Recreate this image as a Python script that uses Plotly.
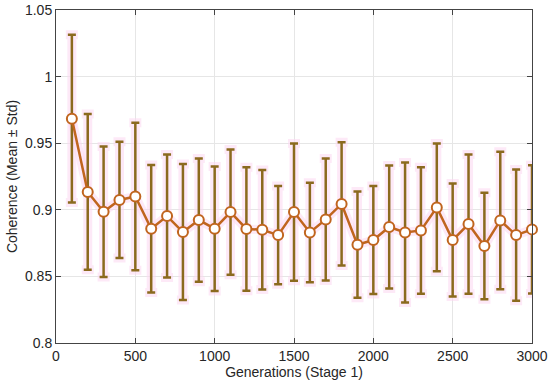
import plotly.graph_objects as go

generations = [100, 200, 300, 400, 500, 600, 700, 800, 900, 1000,
               1100, 1200, 1300, 1400, 1500, 1600, 1700, 1800, 1900, 2000,
               2100, 2200, 2300, 2400, 2500, 2600, 2700, 2800, 2900, 3000]
mean_coh = [0.9684, 0.9134, 0.8986, 0.9074, 0.9100, 0.8858, 0.8953, 0.8833, 0.8923, 0.8858,
            0.8983, 0.8856, 0.8850, 0.8810, 0.8983, 0.8830, 0.8928, 0.9044, 0.8738, 0.8773,
            0.8871, 0.8830, 0.8845, 0.9018, 0.8773, 0.8893, 0.8728, 0.8920, 0.8810, 0.8853]
std_coh = [0.0630, 0.0585, 0.0490, 0.0436, 0.0553, 0.0479, 0.0462, 0.0510, 0.0463, 0.0467,
           0.0470, 0.0463, 0.0448, 0.0369, 0.0515, 0.0373, 0.0458, 0.0463, 0.0399, 0.0406,
           0.0462, 0.0526, 0.0475, 0.0479, 0.0424, 0.0523, 0.0400, 0.0516, 0.0492, 0.0482]

x_ticks = [0, 500, 1000, 1500, 2000, 2500, 3000]
y_ticks = [0.8, 0.85, 0.9, 0.95, 1.0, 1.05]
y_tick_labels = ["0.8", "0.85", "0.9", "0.95", "1", "1.05"]

bar_color = "#8B6A1E"
line_color = "#C0651E"
halo = "rgba(252,215,240,0.55)"
font_family = "Liberation Sans, Arial, sans-serif"

fig = go.Figure()
# soft pink halo
fig.add_trace(go.Scatter(
    x=generations, y=mean_coh, mode="lines",
    line=dict(color=halo, width=9),
    error_y=dict(type="data", array=std_coh, visible=True, color=halo, thickness=9, width=6),
    hoverinfo="skip", showlegend=False, cliponaxis=False))
fig.add_trace(go.Scatter(
    x=generations, y=mean_coh, mode="lines+markers",
    line=dict(color=line_color, width=2.5),
    marker=dict(size=10, color="white", line=dict(color=line_color, width=2)),
    error_y=dict(type="data", array=std_coh, visible=True, color=bar_color, thickness=2.5, width=4),
    showlegend=False, cliponaxis=False))

axis_common = dict(
    showline=True, mirror="ticks", linecolor="#444444", linewidth=1,
    ticks="inside", ticklen=5, tickcolor="#444444",
    showgrid=True, gridcolor="#E6E6E6", gridwidth=1,
    zeroline=False, automargin=False,
    tickfont=dict(family=font_family, size=14, color="#262626"),
)
fig.update_xaxes(range=[0, 3000], tickvals=x_ticks,
                 title=dict(text="Generations (Stage 1)", standoff=3,
                            font=dict(family=font_family, size=14, color="#262626")),
                 **axis_common)
fig.update_yaxes(range=[0.8, 1.05], tickvals=y_ticks, ticktext=y_tick_labels,
                 title=dict(text="Coherence (Mean ± Std)", standoff=4,
                            font=dict(family=font_family, size=14, color="#262626")),
                 **axis_common)
fig.update_layout(
    width=550, height=390,
    margin=dict(l=56, r=18, t=10, b=47),
    plot_bgcolor="white", paper_bgcolor="white",
)
fig.write_html("out.html", config={"displayModeBar": False},
               post_script="document.body.style.margin='0';document.body.style.overflow='hidden';")
